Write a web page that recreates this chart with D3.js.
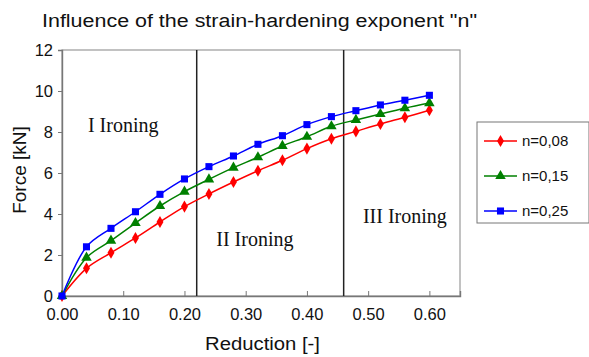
<!DOCTYPE html>
<html>
<head>
<meta charset="utf-8">
<script src="https://cdn.jsdelivr.net/npm/d3@7"></script>
<style>
  body { margin: 0; background: #fff; }
  svg { display: block; }
</style>
</head>
<body>
<svg id="chart" width="589" height="357"></svg>
<script>
const reduction = [0, 0.04, 0.08, 0.12, 0.16, 0.20, 0.24, 0.28, 0.32, 0.36, 0.40, 0.44, 0.48, 0.52, 0.56, 0.60];
const n008 = [0, 1.35, 2.11, 2.83, 3.61, 4.36, 4.98, 5.56, 6.11, 6.62, 7.19, 7.67, 8.03, 8.39, 8.72, 9.06];
const n015 = [0, 1.87, 2.70, 3.56, 4.39, 5.09, 5.69, 6.26, 6.77, 7.32, 7.77, 8.28, 8.59, 8.88, 9.16, 9.41];
const n025 = [0, 2.40, 3.30, 4.11, 4.96, 5.71, 6.31, 6.83, 7.40, 7.82, 8.36, 8.75, 9.04, 9.32, 9.55, 9.79];
const seriesNames = ['n=0,08', 'n=0,15', 'n=0,25'];
const xTicks = [0, 0.1, 0.2, 0.3, 0.4, 0.5, 0.6];
const yTicks = [0, 2, 4, 6, 8, 10, 12];
const stageBounds = [0.22, 0.46];
const stageLabels = [
  { text: 'I Ironing', x: 0.10, y: 8.35 },
  { text: 'II Ironing', x: 0.315, y: 2.8 },
  { text: 'III Ironing', x: 0.56, y: 3.9 }
];

const svg = d3.select('#chart');
const margin = { left: 62, top: 50, right: 129, bottom: 61 };
const width = 589 - margin.left - margin.right;
const height = 357 - margin.top - margin.bottom;

const x = d3.scaleLinear().domain([0, 0.65]).range([0, width]);
const y = d3.scaleLinear().domain([0, 12]).range([height, 0]);

const g = svg.append('g').attr('transform', `translate(${margin.left},${margin.top})`);

// frame
g.append('rect')
  .attr('width', width).attr('height', height)
  .attr('fill', 'none').attr('stroke', '#999').attr('stroke-width', 1.2);

// axes
const xAxis = g.append('g').attr('transform', `translate(0,${height})`)
  .call(d3.axisBottom(x).tickValues(xTicks).tickSize(-5).tickPadding(12).tickFormat(d3.format('.2f')));
const yAxis = g.append('g')
  .call(d3.axisLeft(y).tickValues(yTicks).tickSize(4).tickPadding(5));

[xAxis, yAxis].forEach(a => {
  a.selectAll('path').attr('stroke', '#777').attr('stroke-width', 1.4);
  a.selectAll('line').attr('stroke', '#777');
  a.selectAll('text')
    .style('font-family', 'Arial, "Liberation Sans", sans-serif')
    .style('font-size', '16.5px')
    .attr('fill', '#111');
});

// stage boundaries
g.selectAll('.stage')
  .data(stageBounds)
  .enter()
  .append('line')
  .attr('x1', d => x(d)).attr('x2', d => x(d))
  .attr('y1', 0).attr('y2', height)
  .attr('stroke', '#222').attr('stroke-width', 1.5);

g.selectAll('.stageLabel')
  .data(stageLabels)
  .enter()
  .append('text')
  .attr('x', d => x(d.x)).attr('y', d => y(d.y))
  .attr('text-anchor', 'middle')
  .attr('dy', '0.35em')
  .style('font-family', '"Liberation Serif", "DejaVu Serif", serif')
  .style('font-size', '20px')
  .attr('fill', '#111')
  .text(d => d.text);

// series
const series = [
  { name: seriesNames[0], values: n008, color: '#ff0000', symbol: d3.symbolDiamond, size: 42 },
  { name: seriesNames[1], values: n015, color: '#008000', symbol: d3.symbolTriangle, size: 48 },
  { name: seriesNames[2], values: n025, color: '#0000ff', symbol: d3.symbolSquare, size: 50 }
];

const line = d3.line()
  .x((d, i) => x(reduction[i]))
  .y(d => y(d))
  .curve(d3.curveCatmullRom.alpha(0.5));

series.forEach(s => {
  g.append('path')
    .datum(s.values)
    .attr('d', line)
    .attr('fill', 'none')
    .attr('stroke', s.color)
    .attr('stroke-width', 1.5);

  g.selectAll(null)
    .data(s.values)
    .enter()
    .append('path')
    .attr('transform', (d, i) => `translate(${x(reduction[i])},${y(d)})`)
    .attr('d', d3.symbol().type(s.symbol).size(s.size))
    .attr('fill', s.color);
});

// titles
svg.append('text')
  .attr('x', 42).attr('y', 27)
  .attr('textLength', 435).attr('lengthAdjust', 'spacingAndGlyphs')
  .style('font-family', 'Arial, "Liberation Sans", sans-serif')
  .style('font-size', '18px')
  .attr('fill', '#111')
  .text('Influence of the strain-hardening exponent "n"');

svg.append('text')
  .attr('x', 205).attr('y', 350)
  .attr('textLength', 115).attr('lengthAdjust', 'spacingAndGlyphs')
  .style('font-family', 'Arial, "Liberation Sans", sans-serif')
  .style('font-size', '18px')
  .attr('fill', '#111')
  .text('Reduction [-]');

svg.append('text')
  .attr('transform', `translate(26,${margin.top + height / 2 - 3}) rotate(-90)`)
  .attr('text-anchor', 'middle')
  .style('font-family', 'Arial, "Liberation Sans", sans-serif')
  .style('font-size', '19px')
  .attr('fill', '#111')
  .text('Force [kN]');

// legend
const legend = svg.append('g').attr('transform', 'translate(477,122)');
legend.append('rect')
  .attr('width', 112).attr('height', 101)
  .attr('fill', '#fff').attr('stroke', '#777').attr('stroke-width', 1);

const items = legend.selectAll('.legend')
  .data(series)
  .enter()
  .append('g')
  .attr('transform', (d, i) => `translate(0,${19 + i * 35})`);

items.append('line')
  .attr('x1', 7).attr('x2', 40)
  .attr('stroke', d => d.color).attr('stroke-width', 1.5);
items.append('path')
  .attr('transform', 'translate(23.5,0)')
  .attr('d', d => d3.symbol().type(d.symbol).size(d.size)())
  .attr('fill', d => d.color);
items.append('text')
  .attr('x', 45).attr('dy', '0.35em')
  .style('font-family', 'Arial, "Liberation Sans", sans-serif')
  .style('font-size', '15px')
  .attr('fill', '#111')
  .text(d => d.name);
</script>
</body>
</html>
